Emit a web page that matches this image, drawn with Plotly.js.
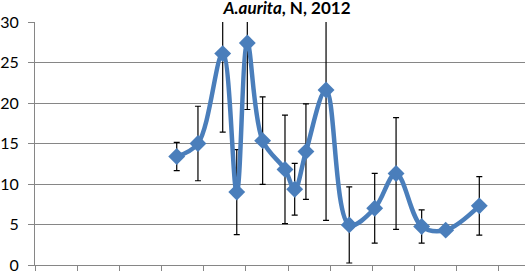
<!DOCTYPE html>
<html>
<head>
<meta charset="utf-8">
<script src="https://cdn.plot.ly/plotly-3.0.1.min.js"></script>
<style>html,body{margin:0;padding:0;background:#fff;}#chart{width:525px;height:271px;}</style>
</head>
<body>
<div id="chart"></div>
<script>
// Day of year for each sample
var days = [100.8, 115.9, 133.5, 143.5, 151.0, 161.9, 177.8, 184.7, 192.7, 207.0, 223.5, 241.6, 256.8, 275.0, 292.1, 316.0];
// Abundance N
var values = [13.4, 15.0, 26.1, 9.0, 27.4, 15.35, 11.8, 9.35, 14.0, 21.6, 4.95, 7.0, 11.3, 4.75, 4.3, 7.3];
// Error (±)
var errors = [1.75, 4.6, 9.7, 5.25, 8.2, 5.4, 6.7, 3.2, 5.9, 16.1, 4.7, 4.3, 6.9, 2.05, 0, 3.6];
var xTicks = [0, 30, 60, 90, 120, 150, 180, 210, 240, 270, 300, 330];
var yTicks = [0, 5, 10, 15, 20, 25, 30];

var trace = {
  x: days, y: values, type: 'scatter', mode: 'lines+markers',
  line: {color: '#4A7EBB', width: 4.5, shape: 'spline', smoothing: 1},
  marker: {symbol: 'diamond', size: 13, color: '#4A7EBB'},
  error_y: {type: 'data', array: errors, visible: true, color: '#000', thickness: 1.2, width: 3},
  cliponaxis: true, hoverinfo: 'none'
};

var layout = {
  width: 525, height: 271,
  margin: {l: 35, r: 0, t: 22, b: 6},
  paper_bgcolor: '#fff', plot_bgcolor: '#fff',
  showlegend: false,
  title: {
    text: '<i>A.aurita</i>, N, 2012',
    font: {family: 'Lato, sans-serif', size: 17, color: '#000', weight: 'bold'},
    x: 287 / 525, xanchor: 'center', xref: 'container',
    y: 1 - 8 / 271, yanchor: 'middle', yref: 'container', pad: {t: 0, b: 0}
  },
  xaxis: {
    range: [0, 348.5], tickmode: 'array', tickvals: xTicks, showticklabels: false,
    ticks: 'outside', ticklen: 6, tickcolor: '#868686', showgrid: false,
    showline: true, linecolor: '#868686', linewidth: 1, zeroline: false, fixedrange: true
  },
  yaxis: {
    range: [0, 30], tickmode: 'array', tickvals: yTicks,
    ticks: 'outside', ticklen: 6, tickcolor: '#868686',
    showgrid: true, gridcolor: '#868686', gridwidth: 1,
    showline: true, linecolor: '#868686', linewidth: 1, zeroline: false,
    ticklabeloverflow: 'allow', ticklabelstandoff: 6,
    tickfont: {family: 'Lato, sans-serif', size: 16, color: '#000'}, fixedrange: true
  }
};

Plotly.newPlot('chart', [trace], layout, {staticPlot: true, displayModeBar: false});
</script>
</body>
</html>
